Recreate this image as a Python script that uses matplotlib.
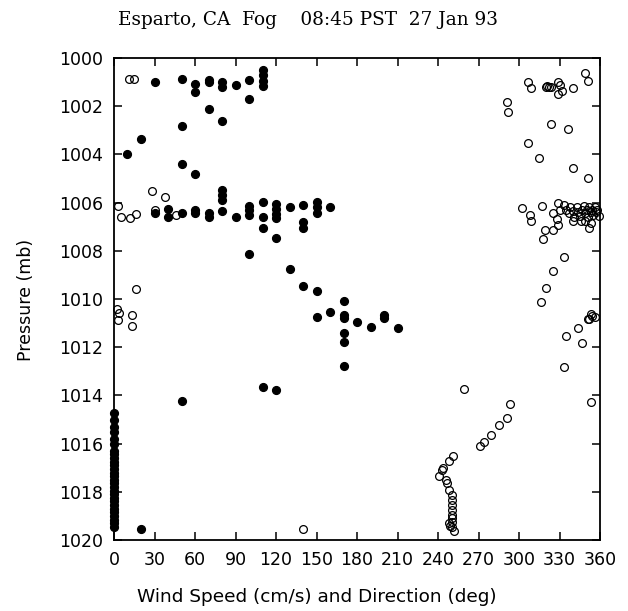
import matplotlib
matplotlib.use("Agg")
import matplotlib.pyplot as plt

# ---- Data ----
# Wind speed (cm/s) vs pressure (mb): filled circles
speed = [30, 50, 60, 60, 70, 70, 80, 80, 90, 100, 100,
         110, 110, 110, 110,
         70, 80, 50, 20, 10, 50, 60, 80, 80, 80,
         80, 30, 40, 40, 50, 60, 60, 70, 70, 90, 100, 100, 100,
         110, 110, 110, 100, 120, 120, 120, 120, 120,
         130, 140, 140, 140, 150, 150, 150, 160,
         130, 140, 150, 170, 150, 160, 170, 170, 180, 190, 200, 200, 210,
         170, 170, 170, 110, 120, 50, 20,
         0, 0, 0, 0, 0, 0, 0, 0, 0, 0, 0, 0, 0, 0, 0, 0, 0, 0,
         0, 0, 0, 0, 0, 0, 0, 0, 0, 0]
speed_pres = [1000.98, 1000.88, 1001.09, 1001.4, 1000.9, 1001.0, 1001.0, 1001.2, 1001.1, 1000.9, 1001.7,
              1000.5, 1000.7, 1000.94, 1001.16,
              1002.12, 1002.6, 1002.82, 1003.37, 1003.98, 1004.41, 1004.81, 1005.48, 1005.68, 1005.9,
              1006.33, 1006.42, 1006.28, 1006.58, 1006.42, 1006.3, 1006.44, 1006.42, 1006.58, 1006.6, 1006.14, 1006.3, 1006.5,
              1005.96, 1006.58, 1007.07, 1008.13, 1006.06, 1006.28, 1006.47, 1006.65, 1007.45,
              1006.2, 1006.1, 1006.79, 1007.07, 1005.96, 1006.2, 1006.44, 1006.17,
              1008.77, 1009.45, 1009.67, 1010.07, 1010.76, 1010.55, 1010.66, 1010.8, 1010.97, 1011.17, 1010.66, 1010.8, 1011.19,
              1011.42, 1011.77, 1012.78, 1013.66, 1013.78, 1014.23, 1019.54,
              1014.75, 1015.0, 1015.3, 1015.5, 1015.8, 1016.0, 1016.3, 1016.45, 1016.6, 1016.75,
              1016.9, 1017.05, 1017.2, 1017.35, 1017.5, 1017.65, 1017.8, 1017.95,
              1018.1, 1018.25, 1018.4, 1018.55, 1018.7, 1018.85, 1019.0, 1019.15, 1019.3, 1019.45]

# Wind direction (deg) vs pressure (mb): open circles
direction = [11, 15, 28, 38, 3, 5, 12, 16, 30, 46,
             16, 2, 4, 3, 13, 13,
             140,
             307, 309, 320, 321, 322, 324, 329, 330, 329, 332, 340, 349, 351,
             291, 292, 324, 336, 307, 315, 340, 351,
             302, 308, 309, 317, 319, 318, 325, 325, 328, 329, 329, 330,
             333, 335, 337, 338, 340, 341, 343, 344, 345, 347, 348, 349, 350, 351,
             352, 353, 354, 355, 356, 357, 358, 359, 346, 353, 340, 352, 349,
             333, 325, 320, 316, 353, 352, 351, 356, 354, 344, 335, 347, 333, 353,
             259, 293, 291, 285, 279, 274, 271, 251, 248, 244, 243, 241,
             246, 247, 248, 250, 250, 250, 250, 250, 250, 250, 250, 248, 249, 252]
dir_pres = [1000.87, 1000.87, 1005.5, 1005.78, 1006.14, 1006.58, 1006.63, 1006.49, 1006.3, 1006.51,
            1009.6, 1010.43, 1010.57, 1010.87, 1010.66, 1011.1,
            1019.56,
            1001.0, 1001.23, 1001.2, 1001.15, 1001.2, 1001.2, 1001.0, 1001.12, 1001.49, 1001.36, 1001.23, 1000.63, 1000.94,
            1001.81, 1002.23, 1002.74, 1002.96, 1003.54, 1004.14, 1004.55, 1004.97,
            1006.21, 1006.51, 1006.75, 1006.14, 1007.14, 1007.52, 1007.14, 1006.44, 1006.69, 1006.93, 1006.03, 1006.3,
            1006.1, 1006.3, 1006.45, 1006.2, 1006.35, 1006.6, 1006.2, 1006.4, 1006.55, 1006.3, 1006.15, 1006.45, 1006.3, 1006.6,
            1006.2, 1006.4, 1006.3, 1006.5, 1006.2, 1006.4, 1006.3, 1006.55, 1006.75, 1006.85, 1006.75, 1007.07, 1006.75,
            1008.24, 1008.84, 1009.56, 1010.14, 1010.64, 1010.84, 1010.84, 1010.73, 1010.7, 1011.22, 1011.54, 1011.84, 1012.83, 1014.26,
            1013.73, 1014.34, 1014.93, 1015.23, 1015.63, 1015.92, 1016.12, 1016.51, 1016.71, 1017.02, 1017.1, 1017.34,
            1017.51, 1017.65, 1017.93, 1018.13, 1018.34, 1018.55, 1018.75, 1018.95, 1019.1, 1019.25, 1019.45, 1019.3, 1019.4, 1019.63]

x_ticks = [0, 30, 60, 90, 120, 150, 180, 210, 240, 270, 300, 330, 360]
y_ticks = [1000, 1002, 1004, 1006, 1008, 1010, 1012, 1014, 1016, 1018, 1020]

title = "Esparto, CA  Fog    08:45 PST  27 Jan 93"
xlabel = "Wind Speed (cm/s) and Direction (deg)"
ylabel = "Pressure (mb)"

# ---- Figure ----
fig = plt.figure(figsize=(6.28, 6.11), dpi=100)
ax = fig.add_axes([114/628, 1 - 540/611, (600 - 114)/628, (540 - 58)/611])

ax.plot(speed, speed_pres, linestyle="none", marker="o", markersize=5.6,
        markerfacecolor="black", markeredgecolor="black", clip_on=False)
ax.plot(direction, dir_pres, linestyle="none", marker="o", markersize=5.6,
        markerfacecolor="none", markeredgecolor="black", markeredgewidth=0.9, clip_on=False)

ax.set_xlim(0, 360)
ax.set_ylim(1020, 1000)
ax.set_xticks(x_ticks)
ax.set_yticks(y_ticks)
ax.tick_params(direction="in", top=True, right=True, length=5.5, width=1.1,
               labelsize=12.5, pad=8)
for s in ax.spines.values():
    s.set_linewidth(1.3)

fig.text(118/628, 1 - 20/611, title, family="DejaVu Serif", fontsize=13.3,
         ha="left", va="center")
fig.text(317/628, 1 - 597/611, xlabel, family="DejaVu Sans", fontsize=13.3,
         ha="center", va="center")
fig.text(26/628, 1 - 300/611, ylabel, family="DejaVu Sans", fontsize=12.5,
         ha="center", va="center", rotation=90)

fig.savefig("out.png", dpi=100)
